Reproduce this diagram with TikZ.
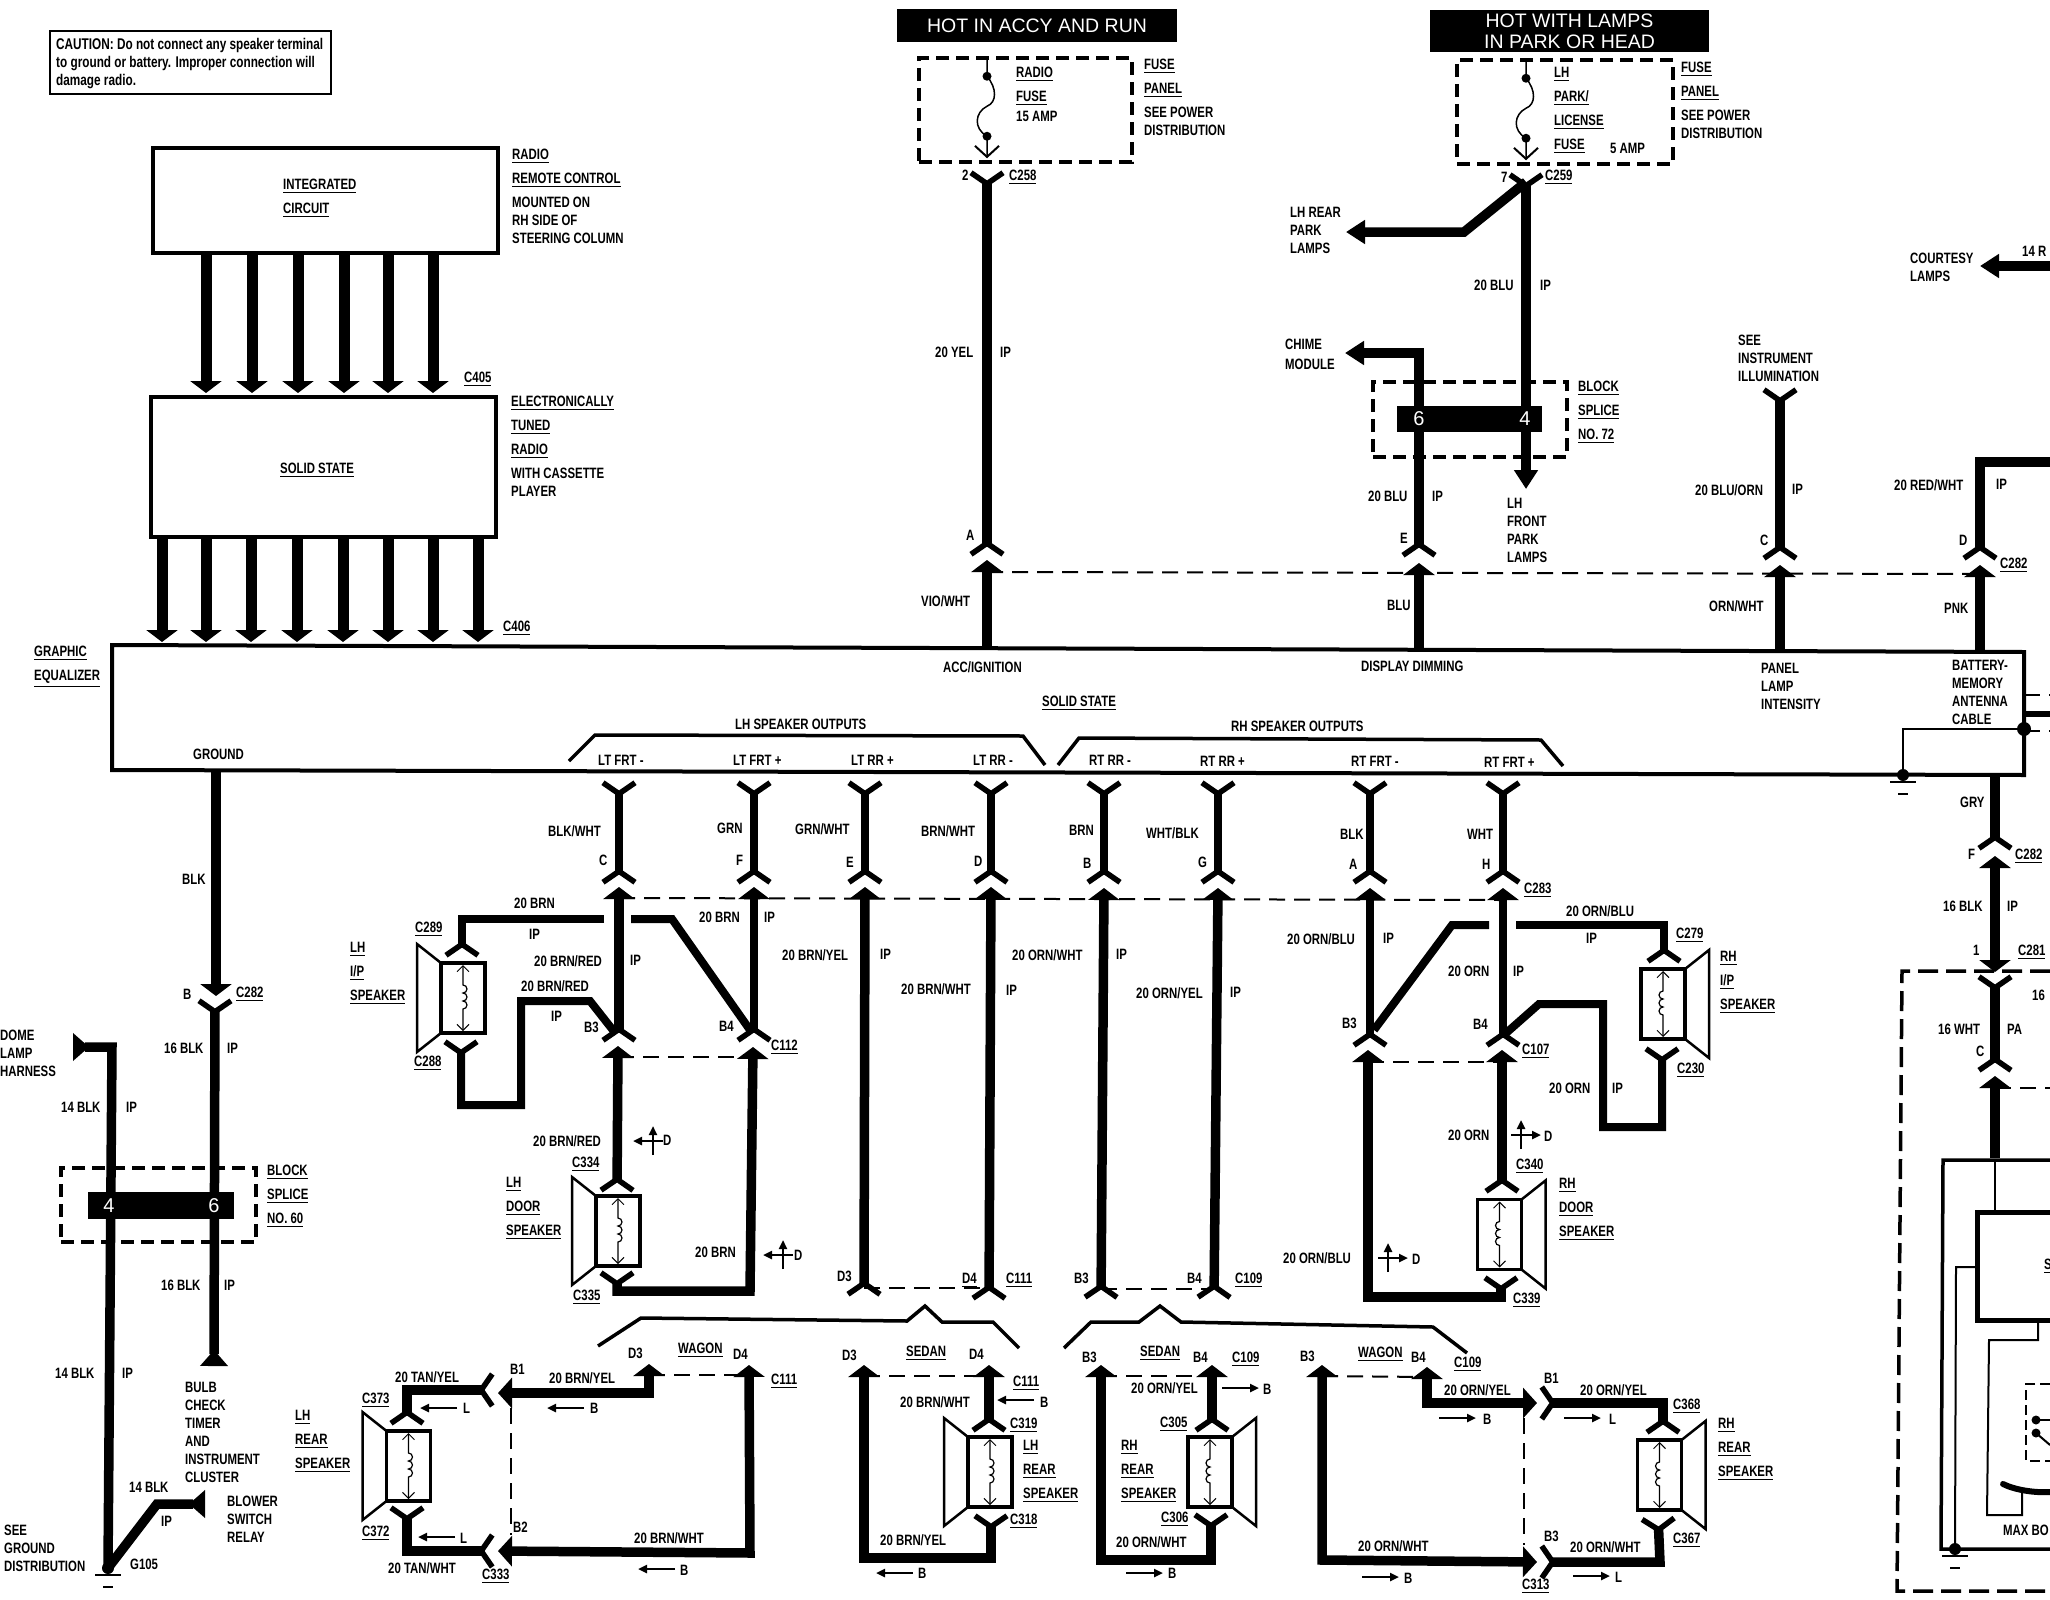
\documentclass[tikz,border=0pt]{standalone}
\usepackage{fontspec}
\setmainfont{Liberation Sans}[FakeStretch=0.76]
\newfontfamily\hotfont{Liberation Sans}
\usetikzlibrary{arrows.meta}
\newcommand\ulab[1]{\leavevmode\vtop{\hbox{#1}\kern2pt\hrule height 1.6pt}}
\tikzset{
  fk/.tip={Straight Barb[reversed,length=11pt,width=32pt,line width=5.5pt]},
  hd/.tip={Triangle[length=12pt,width=31pt]},
  ar/.tip={Triangle[length=19pt,width=23pt]},
  ac/.tip={Triangle[length=14pt,width=30pt]},
  fl/.tip={Triangle[reversed,length=16pt,width=27pt]},
  bb/.tip={Straight Barb[length=6pt,width=12pt,line width=1pt]},
  wire/.style={line width=9.5pt},
  hvy/.style={line width=11pt},
  box/.style={draw,line width=4.5pt,inner sep=0pt},
  dbox/.style={draw,line width=3.5pt,dash pattern=on 13pt off 7pt,inner sep=0pt},
  dline/.style={line width=2pt,dash pattern=on 16pt off 9pt},
  brk/.style={line width=3.5pt},
  thn/.style={line width=2pt},
  lab/.style={inner sep=0pt,anchor=north west,align=left,font=\fontsize{15}{18}\selectfont\bfseries},
  hot/.style={fill=black,text=white,inner sep=0pt,align=center,font=\fontsize{19.5}{21}\hotfont},
  num/.style={text=white,inner sep=0pt,font=\fontsize{20}{20}\hotfont},
  bar/.style={fill=black,inner sep=0pt},
  pics/speaker/.style={code={
    \draw[line width=3.5pt] (-22,-35) rectangle (22,35);
    \draw[line width=2.5pt] (-22,-35) -- (-46,-54) -- (-46,54) -- (-22,35);
    \draw[line width=1.2pt,bb-bb] (0,-33) -- (0,-13) arc (-90:90:4) arc (-90:90:4) arc (-90:90:4) -- (0,33);
  }},
  pics/gnd/.style={code={
    \fill (0,0) circle (6);
    \draw[line width=2.5pt] (-13,7) -- (13,7);
    \draw[line width=2.5pt] (-5,19) -- (5,19);
  }},
  pics/fuse/.style={code={
    \fill (0,20) circle (4.5);
    \fill (0,80) circle (4.5);
    \draw[line width=1.5pt,-{Straight Barb[length=11pt,width=24pt,line width=2pt]}] (0,0) -- (0,20) .. controls (10,32) and (10,46) .. (0,50) .. controls (-12,56) and (-14,72) .. (0,80) -- (0,102);
  }},
  pics/dirl/.style={code={\draw[line width=2.5pt,-{Triangle[length=9pt,width=8pt]}] (0,0) -- (-37,0);}},
  pics/dirr/.style={code={\draw[line width=2.5pt,-{Triangle[length=9pt,width=8pt]}] (0,0) -- (37,0);}},
  pics/crossm/.style={code={
    \draw[line width=2.5pt,-{Triangle[length=9pt,width=8pt]}] (0,14) -- (0,-15);
    \draw[line width=2.5pt,-{Triangle[length=9pt,width=8pt]}] (-10,0) -- (20,0);
  }}
}
\begin{document}
\begin{tikzpicture}[x=1pt,y=-1pt]
  \useasboundingbox (0,0) rectangle (2050,1600);

  \node[box,line width=2.5pt,minimum width=281pt,minimum height=63pt] (cbox) at (190.5,62.5) {};
  \node[box,minimum width=345pt,minimum height=105pt] (icbox) at (325.5,200.5) {};
  \node[box,minimum width=345pt,minimum height=140pt] (ssbox) at (323.5,467) {};

  \foreach \x in {206,252,298,344,388,433} {
    \coordinate (r\x) at (\x,393);
    \draw[hvy,-hd] (icbox.south -| r\x) -- (r\x);
  }
  \foreach \x in {162,206,251,297,343,388,433,478} {
    \coordinate (s\x) at (\x,642);
    \draw[hvy,-hd] (ssbox.south -| s\x) -- (s\x);
  }

  \coordinate (eq1) at (112,645);
  \coordinate (eq2) at (2024,652);
  \coordinate (eq3) at (2024,775);
  \coordinate (eq4) at (112,770);
  \draw[line width=4pt] (eq1) -- (eq2) -- (eq3) -- (eq4) -- cycle;

  \coordinate (a1) at (987,170);
  \coordinate (a2) at (987,557);
  \coordinate (a3) at (987,560);
  \coordinate (a4) at (987,648);
  \draw[wire,fk-fk] (a1) -- (a2);
  \draw[wire,hd-] (a3) -- (a4);

  \coordinate (b1) at (1419,563);
  \coordinate (b2) at (1419,649);
  \coordinate (b3) at (1419,558);
  \coordinate (b4) at (1419,353);
  \coordinate (b5) at (1345,353);
  \draw[wire,hd-] (b1) -- (b2);
  \draw[wire,fk-ar] (b3) -- (b4) -- (b5);

  \coordinate (c1) at (1526,172);
  \coordinate (c2) at (1526,489);
  \coordinate (c3) at (1526,182);
  \coordinate (c4) at (1464,232);
  \coordinate (c5) at (1346,232);
  \draw[wire,fk-ar] (c1) -- (c2);
  \draw[wire,-ar] (c3) -- (c4) -- (c5);

  \coordinate (d1) at (1780,387);
  \coordinate (d2) at (1780,561);
  \coordinate (d3) at (1780,565);
  \coordinate (d4) at (1780,650);
  \draw[wire,fk-fk] (d1) -- (d2);
  \draw[wire,hd-] (d3) -- (d4);

  \coordinate (e1) at (2050,462);
  \coordinate (e2) at (1980,462);
  \coordinate (e3) at (1980,561);
  \coordinate (e4) at (1980,565);
  \coordinate (e5) at (1980,651);
  \draw[wire,-fk] (e1) -- (e2) -- (e3);
  \draw[wire,hd-] (e4) -- (e5);

  \coordinate (cl1) at (2050,266);
  \coordinate (cl2) at (1980,266);
  \draw[wire,-ar] (cl1) -- (cl2);

  \coordinate (f1) at (1995,775);
  \coordinate (f2) at (1995,851);
  \coordinate (f3) at (1995,856);
  \coordinate (f4) at (1995,972);
  \coordinate (f5) at (1995,974);
  \coordinate (f6) at (1995,1073);
  \coordinate (f7) at (1995,1076);
  \coordinate (f8) at (1995,1158);
  \draw[wire,-fk] (f1) -- (f2);
  \draw[wire,hd-hd] (f3) -- (f4);
  \draw[wire,fk-fk] (f5) -- (f6);
  \draw[wire,hd-] (f7) -- (f8);

  \coordinate (g1) at (216,770);
  \coordinate (g2) at (216,996);
  \coordinate (g3) at (215,998);
  \coordinate (g4) at (214,1366);
  \draw[wire,-hd] (g1) -- (g2);
  \draw[wire,fk-fl] (g3) -- (g4);

  \coordinate (h1) at (73,1047);
  \coordinate (h2) at (112,1047);
  \coordinate (h3) at (108,1568);
  \coordinate (h4) at (157,1504);
  \coordinate (h5) at (205,1504);
  \draw[wire,fl-] (h1) -- (h2) -- (h3);
  \draw[wire,-fl] (h3) -- (h4) -- (h5);

  \foreach \x in {619,754,865,991,1104,1218,1370,1503} {
    \coordinate (u\x) at (\x,780);
    \coordinate (v\x) at (\x,885);
    \draw[wire,line width=8pt,fk-fk] (u\x) -- (v\x);
  }

  \coordinate (j1) at (619,887);
  \coordinate (j2) at (619,1043);
  \coordinate (j3) at (618,1046);
  \coordinate (j4) at (617,1193);
  \coordinate (j5) at (617,1270);
  \coordinate (j6) at (617,1291);
  \coordinate (j7) at (750,1291);
  \coordinate (j8) at (753,1047);
  \coordinate (j9) at (754,887);
  \coordinate (j10) at (754,1043);
  \draw[wire,hd-fk] (j1) -- (j2);
  \draw[wire,hd-fk] (j3) -- (j4);
  \draw[wire,fk-hd] (j5) -- (j6) -- (j7) -- (j8);
  \draw[wire,line width=8pt,hd-fk] (j9) -- (j10);

  \coordinate (k1) at (865,887);
  \coordinate (k2) at (864,1297);
  \coordinate (k3) at (991,887);
  \coordinate (k4) at (989,1301);
  \coordinate (k5) at (1104,888);
  \coordinate (k6) at (1101,1300);
  \coordinate (k7) at (1218,888);
  \coordinate (k8) at (1214,1300);
  \draw[wire,hd-fk] (k1) -- (k2);
  \draw[wire,hd-fk] (k3) -- (k4);
  \draw[wire,hd-fk] (k5) -- (k6);
  \draw[wire,hd-fk] (k7) -- (k8);

  \coordinate (m1) at (1370,888);
  \coordinate (m2) at (1370,1048);
  \coordinate (m3) at (1368,1050);
  \coordinate (m4) at (1368,1297);
  \coordinate (m5) at (1501,1297);
  \coordinate (m6) at (1501,1275);
  \coordinate (m7) at (1503,888);
  \coordinate (m8) at (1503,1048);
  \coordinate (m9) at (1502,1050);
  \coordinate (m10) at (1502,1194);
  \draw[wire,line width=8pt,hd-fk] (m1) -- (m2);
  \draw[wire,hd-fk] (m3) -- (m4) -- (m5) -- (m6);
  \draw[wire,line width=8pt,hd-fk] (m7) -- (m8);
  \draw[wire,hd-fk] (m9) -- (m10);

  \coordinate (n1) at (604,919);
  \coordinate (n2) at (462,919);
  \coordinate (n3) at (462,958);
  \coordinate (n4) at (631,919);
  \coordinate (n5) at (672,919);
  \coordinate (n6) at (750,1030);
  \coordinate (n7) at (461,1039);
  \coordinate (n8) at (461,1105);
  \coordinate (n9) at (521,1105);
  \coordinate (n10) at (521,1001);
  \coordinate (n11) at (590,1001);
  \coordinate (n12) at (616,1034);
  \draw[wire,line width=8pt,-fk] (n1) -- (n2) -- (n3);
  \draw[wire,line width=8pt] (n4) -- (n5) -- (n6);
  \draw[wire,line width=8pt,fk-] (n7) -- (n8) -- (n9) -- (n10) -- (n11) -- (n12);

  \coordinate (o1) at (1489,925);
  \coordinate (o2) at (1452,925);
  \coordinate (o3) at (1374,1030);
  \coordinate (o4) at (1516,925);
  \coordinate (o5) at (1664,925);
  \coordinate (o6) at (1664,964);
  \coordinate (o7) at (1662,1046);
  \coordinate (o8) at (1662,1127);
  \coordinate (o9) at (1603,1127);
  \coordinate (o10) at (1603,1004);
  \coordinate (o11) at (1539,1004);
  \coordinate (o12) at (1505,1034);
  \draw[wire,line width=8pt] (o1) -- (o2) -- (o3);
  \draw[wire,line width=8pt,-fk] (o4) -- (o5) -- (o6);
  \draw[wire,line width=8pt,fk-] (o7) -- (o8) -- (o9) -- (o10) -- (o11) -- (o12);

  \coordinate (q1) at (649,1364);
  \coordinate (q2) at (649,1393);
  \coordinate (q3) at (498,1393);
  \coordinate (q4) at (495,1390);
  \coordinate (q5) at (407,1390);
  \coordinate (q6) at (407,1426);
  \coordinate (q7) at (749,1365);
  \coordinate (q8) at (750,1553);
  \coordinate (q9) at (498,1551);
  \coordinate (q10) at (495,1551);
  \coordinate (q11) at (407,1551);
  \coordinate (q12) at (407,1505);
  \draw[wire,hd-ac] (q1) -- (q2) -- (q3);
  \draw[wire,fk-fk] (q4) -- (q5) -- (q6);
  \draw[wire,hd-ac] (q7) -- (q8) -- (q9);
  \draw[wire,fk-fk] (q10) -- (q11) -- (q12);

  \coordinate (w1) at (864,1365);
  \coordinate (w2) at (864,1558);
  \coordinate (w3) at (991,1558);
  \coordinate (w4) at (991,1513);
  \coordinate (w5) at (989,1365);
  \coordinate (w6) at (989,1433);
  \coordinate (w7) at (1101,1365);
  \coordinate (w8) at (1101,1560);
  \coordinate (w9) at (1211,1560);
  \coordinate (w10) at (1211,1512);
  \coordinate (w11) at (1212,1365);
  \coordinate (w12) at (1212,1433);
  \draw[wire,hd-fk] (w1) -- (w2) -- (w3) -- (w4);
  \draw[wire,hd-fk] (w5) -- (w6);
  \draw[wire,hd-fk] (w7) -- (w8) -- (w9) -- (w10);
  \draw[wire,hd-fk] (w11) -- (w12);

  \coordinate (x1) at (1322,1365);
  \coordinate (x2) at (1322,1560);
  \coordinate (x3) at (1537,1562);
  \coordinate (x4) at (1539,1562);
  \coordinate (x5) at (1660,1562);
  \coordinate (x6) at (1658,1516);
  \coordinate (x7) at (1427,1367);
  \coordinate (x8) at (1427,1403);
  \coordinate (x9) at (1537,1403);
  \coordinate (x10) at (1539,1403);
  \coordinate (x11) at (1663,1403);
  \coordinate (x12) at (1663,1435);
  \draw[wire,hd-ac] (x1) -- (x2) -- (x3);
  \draw[wire,fk-fk] (x4) -- (x5) -- (x6);
  \draw[wire,hd-ac] (x7) -- (x8) -- (x9);
  \draw[wire,fk-fk] (x10) -- (x11) -- (x12);

  \coordinate (y2) at (1322,1376);
  \coordinate (y3) at (1427,1377);
  \draw[dline] (a3) ++(0,12) -- (1980,574);
  \draw[dline] (j1) ++(0,11) -- (1502,900);
  \draw[dline] (j3) ++(0,11) -- (j8 |- 0,1057);
  \draw[dline] (m3) ++(0,12) -- (m9 |- 0,1062);
  \draw[dline] (k2) ++(0,-9) -- (989,1288);
  \draw[dline] (k6) ++(0,-11) -- (1214,1289);
  \draw[dline] (q1) ++(0,11) -- (749,1375);
  \draw[dline] (w1) ++(0,11) -- (989,1376);
  \draw[dline] (w7) ++(0,11) -- (1212,1376);
  \draw[dline] (y2) -- (y3);
  \draw[dline] (511,1408) -- (511,1535);
  \draw[dline] (1524,1418) -- (1524,1545);
  \draw[dline] (1995,1088) -- (2050,1088);
  \draw[dline] (2024,695) -- (2050,695);
  \draw[dline] (2024,731) -- (2050,731);
  \draw[line width=6pt] (2024,714) -- (2050,714);

  \coordinate (gd) at (1903,775);
  \coordinate (dt) at (2024,729);
  \fill (dt) circle (7);
  \draw[thn] (dt) -- (gd |- dt) -- (gd);
  \pic (gndA) at (gd) {gnd};
  \pic (gndB) at (h3) {gnd};

  \node[dbox,minimum width=213pt,minimum height=104pt] (fa) at (1025.5,110) {};
  \node[dbox,minimum width=216pt,minimum height=104pt] (fb) at (1565,112) {};
  \node[dbox,minimum width=194pt,minimum height=75pt] (sb72) at (1470,419.5) {};
  \node[dbox,minimum width=195pt,minimum height=74pt] (sb60) at (158.5,1205) {};
  \pic (fuA) at (fa.north -| a1) {fuse};
  \pic (fuB) at (fb.north -| c1) {fuse};
  \node[bar,minimum width=145pt,minimum height=26pt] (bar72) at (1469.5,419) {};
  \node[bar,minimum width=146pt,minimum height=27pt] (bar60) at (161,1205.5) {};
  \node[num] (n72a) at (1419,419) {6};
  \node[num] (n72b) at (1525,419) {4};
  \node[num] (n60a) at (109,1206) {4};
  \node[num] (n60b) at (214,1206) {6};

  \node[hot,minimum width=280pt,minimum height=33pt] (hota) at (1037,25.5) {HOT IN ACCY AND RUN};
  \node[hot,minimum width=279pt,minimum height=42pt] (hotb) at (1569.5,31) {HOT WITH LAMPS\\IN PARK OR HEAD};

  \pic (spA) at (463,998) {speaker};
  \pic (spB) at (618,1231) {speaker};
  \pic[xscale=-1] (spC) at (1663,1004) {speaker};
  \pic[xscale=-1] (spD) at (1499.5,1234.5) {speaker};
  \pic (spE) at (408.5,1466) {speaker};
  \pic (spF) at (990,1472) {speaker};
  \pic[xscale=-1] (spG) at (1210,1472) {speaker};
  \pic[xscale=-1] (spH) at (1659.5,1475) {speaker};

  \draw[brk] (569,761) -- (595,735) -- (1023,736) -- (1045,765);
  \draw[brk] (1058,765) -- (1079,738) -- (1541,740) -- (1563,766);
  \draw[brk] (598,1346) -- (641,1318) -- (907,1321) -- (925,1306) -- (942,1322) -- (993,1322) -- (1019,1348);
  \draw[brk] (1064,1348) -- (1091,1322) -- (1139,1322) -- (1160,1306) -- (1181,1322) -- (1433,1327) -- (1467,1353);

  \pic (di1) at (457,1408) {dirl};
  \pic (di2) at (455,1537) {dirl};
  \pic (di3) at (584,1408) {dirl};
  \pic (di4) at (675,1569) {dirl};
  \pic (di5) at (1034,1400) {dirl};
  \pic (di6) at (913,1573) {dirl};
  \pic (di7) at (1222,1388) {dirr};
  \pic (di8) at (1126,1573) {dirr};
  \pic (di9) at (1439,1418) {dirr};
  \pic (di10) at (1564,1418) {dirr};
  \pic (di11) at (1362,1577) {dirr};
  \pic (di12) at (1573,1576) {dirr};
  \pic[xscale=-1] (cr1) at (653,1141) {crossm};
  \pic[xscale=-1] (cr2) at (783,1255) {crossm};
  \pic (cr3) at (1521,1135) {crossm};
  \pic (cr4) at (1388,1258) {crossm};

  \draw[line width=3.5pt,dash pattern=on 20pt off 8pt] (2050,971) -- (1902,971) -- (1897,1591) -- (2050,1591);
  \draw[line width=3.5pt] (2050,1160) -- (1943,1160) -- (1941,1549) -- (2050,1549);
  \draw[thn] (1995,1160) -- (1995,1212);
  \draw[line width=5pt] (2050,1212) -- (1977,1212) -- (1977,1320) -- (2050,1320);
  \draw[thn] (1977,1267) -- (1956,1267) -- (1955,1549);
  \draw[thn] (2038,1320) -- (2038,1340) -- (1989,1340) -- (1987,1515) -- (2022,1515) -- (2022,1492);
  \draw[line width=6pt,line cap=round] (2003,1484) .. controls (2015,1490) and (2035,1493) .. (2050,1492);
  \draw[line width=1.5pt,dash pattern=on 10pt off 5pt] (2050,1384) -- (2026,1384) -- (2026,1461) -- (2050,1461);
  \fill (2036,1420) circle (4.5);
  \fill (2036,1433) circle (4.5);
  \draw[thn] (2036,1420) -- (2050,1420);
  \draw[thn] (2036,1433) -- (2050,1445);
  \pic (gndC) at (1955,1549) {gnd};

  \node[lab,font=\fontsize{15.5}{18}\selectfont\bfseries] (l1) at (56,38) {CAUTION: Do not connect any speaker terminal\\to ground or battery. Improper connection will\\damage radio.};
  \node[lab] (l2) at (283,179) {\ulab{INTEGRATED}\\[6pt]\ulab{CIRCUIT}};
  \node[lab] (l3) at (512,149) {\ulab{RADIO}\\[6pt]\ulab{REMOTE CONTROL}\\[6pt]MOUNTED ON\\RH SIDE OF\\STEERING COLUMN};
  \node[lab] (l4) at (464,372) {\ulab{C405}};
  \node[lab] (l5) at (280,463) {\ulab{SOLID STATE}};
  \node[lab] (l6) at (511,396) {\ulab{ELECTRONICALLY}\\[6pt]\ulab{TUNED}\\[6pt]\ulab{RADIO}\\[6pt]WITH CASSETTE\\PLAYER};
  \node[lab] (l7) at (503,621) {\ulab{C406}};
  \node[lab] (l8) at (34,646) {\ulab{GRAPHIC}\\[6pt]\ulab{EQUALIZER}};
  \node[lab] (l9) at (1016,67) {\ulab{RADIO}\\[6pt]\ulab{FUSE}\\[2pt]15 AMP};
  \node[lab] (l10) at (1144,59) {\ulab{FUSE}\\[6pt]\ulab{PANEL}\\[6pt]SEE POWER\\DISTRIBUTION};
  \node[lab] (l11) at (962,170) {2};
  \node[lab] (l12) at (1009,170) {\ulab{C258}};
  \node[lab] (l13) at (935,347) {20 YEL};
  \node[lab] (l14) at (1000,347) {IP};
  \node[lab] (l15) at (966,530) {A};
  \node[lab] (l16) at (921,595) {VIO/WHT};
  \node[lab] (l17) at (943,661) {ACC/IGNITION};
  \node[lab] (l18) at (1042,696) {\ulab{SOLID STATE}};
  \node[lab] (l19) at (1554,67) {\ulab{LH}\\[6pt]\ulab{PARK/}\\[6pt]\ulab{LICENSE}\\[6pt]\ulab{FUSE}};
  \node[lab] (l20) at (1610,143) {5 AMP};
  \node[lab] (l21) at (1681,62) {\ulab{FUSE}\\[6pt]\ulab{PANEL}\\[6pt]SEE POWER\\DISTRIBUTION};
  \node[lab] (l22) at (1501,172) {7};
  \node[lab] (l23) at (1545,170) {\ulab{C259}};
  \node[lab] (l24) at (1290,207) {LH REAR\\PARK\\LAMPS};
  \node[lab] (l25) at (1474,280) {20 BLU};
  \node[lab] (l26) at (1540,280) {IP};
  \node[lab] (l27) at (1285,339) {CHIME\\[2pt]MODULE};
  \node[lab] (l28) at (1578,381) {\ulab{BLOCK}\\[6pt]\ulab{SPLICE}\\[6pt]\ulab{NO. 72}};
  \node[lab] (l29) at (1368,491) {20 BLU};
  \node[lab] (l30) at (1432,491) {IP};
  \node[lab] (l31) at (1400,533) {E};
  \node[lab] (l32) at (1387,600) {BLU};
  \node[lab] (l33) at (1507,498) {LH\\FRONT\\PARK\\LAMPS};
  \node[lab] (l34) at (1361,661) {DISPLAY DIMMING};
  \node[lab] (l35) at (1910,253) {COURTESY\\LAMPS};
  \node[lab] (l36) at (2022,246) {14 R};
  \node[lab] (l37) at (1738,335) {SEE\\INSTRUMENT\\ILLUMINATION};
  \node[lab] (l38) at (1695,484) {20 BLU/ORN};
  \node[lab] (l39) at (1792,484) {IP};
  \node[lab] (l40) at (1760,535) {C};
  \node[lab] (l41) at (1709,600) {ORN/WHT};
  \node[lab] (l42) at (1894,479) {20 RED/WHT};
  \node[lab] (l43) at (1996,479) {IP};
  \node[lab] (l44) at (1959,535) {D};
  \node[lab] (l45) at (2000,558) {\ulab{C282}};
  \node[lab] (l46) at (1944,603) {PNK};
  \node[lab] (l47) at (1761,663) {PANEL\\LAMP\\INTENSITY};
  \node[lab] (l48) at (1952,660) {BATTERY-\\MEMORY\\ANTENNA\\CABLE};
  \node[lab] (l49) at (1960,797) {GRY};
  \node[lab] (l50) at (1968,849) {F};
  \node[lab] (l51) at (2015,849) {\ulab{C282}};
  \node[lab] (l52) at (1943,901) {16 BLK};
  \node[lab] (l53) at (2007,901) {IP};
  \node[lab] (l54) at (1973,945) {1};
  \node[lab] (l55) at (2018,945) {\ulab{C281}};
  \node[lab] (l56) at (2032,990) {16};
  \node[lab] (l57) at (1938,1024) {16 WHT};
  \node[lab] (l58) at (2007,1024) {PA};
  \node[lab] (l59) at (1976,1046) {C};
  \node[lab] (l60) at (2044,1259) {\ulab{S}};
  \node[lab] (l61) at (2003,1525) {MAX BO};
  \node[lab] (l62) at (193,749) {GROUND};
  \node[lab] (l63) at (182,874) {BLK};
  \node[lab] (l64) at (183,989) {B};
  \node[lab] (l65) at (236,987) {\ulab{C282}};
  \node[lab] (l66) at (164,1043) {16 BLK};
  \node[lab] (l67) at (227,1043) {IP};
  \node[lab] (l68) at (0,1030) {DOME\\LAMP\\HARNESS};
  \node[lab] (l69) at (61,1102) {14 BLK};
  \node[lab] (l70) at (126,1102) {IP};
  \node[lab] (l71) at (267,1165) {\ulab{BLOCK}\\[6pt]\ulab{SPLICE}\\[6pt]\ulab{NO. 60}};
  \node[lab] (l72) at (161,1280) {16 BLK};
  \node[lab] (l73) at (224,1280) {IP};
  \node[lab] (l74) at (55,1368) {14 BLK};
  \node[lab] (l75) at (122,1368) {IP};
  \node[lab] (l76) at (185,1382) {BULB\\CHECK\\TIMER\\AND\\INSTRUMENT\\CLUSTER};
  \node[lab] (l77) at (129,1482) {14 BLK};
  \node[lab] (l78) at (161,1516) {IP};
  \node[lab] (l79) at (227,1496) {BLOWER\\SWITCH\\RELAY};
  \node[lab] (l80) at (4,1525) {SEE\\GROUND\\DISTRIBUTION};
  \node[lab] (l81) at (130,1559) {G105};
  \node[lab] (l82) at (350,942) {\ulab{LH}\\[6pt]\ulab{I/P}\\[6pt]\ulab{SPEAKER}};
  \node[lab] (l83) at (415,922) {\ulab{C289}};
  \node[lab] (l84) at (414,1056) {\ulab{C288}};
  \node[lab] (l85) at (735,719) {LH SPEAKER OUTPUTS};
  \node[lab] (l86) at (598,755) {LT FRT -};
  \node[lab] (l87) at (733,755) {LT FRT +};
  \node[lab] (l88) at (851,755) {LT RR +};
  \node[lab] (l89) at (973,755) {LT RR -};
  \node[lab] (l90) at (548,825) {BLK/WHT};
  \node[lab] (l91) at (717,823) {GRN};
  \node[lab] (l92) at (795,823) {GRN/WHT};
  \node[lab] (l93) at (921,825) {BRN/WHT};
  \node[lab] (l94) at (1069,825) {BRN};
  \node[lab] (l95) at (599,855) {C};
  \node[lab] (l96) at (736,855) {F};
  \node[lab] (l97) at (846,857) {E};
  \node[lab] (l98) at (974,856) {D};
  \node[lab] (l99) at (1083,858) {B};
  \node[lab] (l100) at (514,898) {20 BRN};
  \node[lab] (l101) at (529,929) {IP};
  \node[lab] (l102) at (534,955) {20 BRN/RED};
  \node[lab] (l103) at (630,955) {IP};
  \node[lab] (l104) at (521,980) {20 BRN/RED};
  \node[lab] (l105) at (551,1011) {IP};
  \node[lab] (l106) at (584,1022) {B3};
  \node[lab] (l107) at (699,912) {20 BRN};
  \node[lab] (l108) at (764,912) {IP};
  \node[lab] (l109) at (719,1021) {B4};
  \node[lab] (l110) at (771,1040) {\ulab{C112}};
  \node[lab] (l111) at (782,949) {20 BRN/YEL};
  \node[lab] (l112) at (880,949) {IP};
  \node[lab] (l113) at (901,983) {20 BRN/WHT};
  \node[lab] (l114) at (1006,985) {IP};
  \node[lab] (l115) at (1012,949) {20 ORN/WHT};
  \node[lab] (l116) at (533,1135) {20 BRN/RED};
  \node[lab] (l117) at (695,1247) {20 BRN};
  \node[lab] (l118) at (506,1177) {\ulab{LH}\\[6pt]\ulab{DOOR}\\[6pt]\ulab{SPEAKER}};
  \node[lab] (l119) at (572,1157) {\ulab{C334}};
  \node[lab] (l120) at (573,1290) {\ulab{C335}};
  \node[lab] (l121) at (837,1271) {D3};
  \node[lab] (l122) at (962,1273) {\ulab{D4}};
  \node[lab] (l123) at (1006,1273) {\ulab{C111}};
  \node[lab] (l124) at (1074,1273) {B3};
  \node[lab] (l125) at (663,1135) {D};
  \node[lab] (l126) at (794,1250) {D};
  \node[lab] (l127) at (1231,721) {RH SPEAKER OUTPUTS};
  \node[lab] (l128) at (1089,755) {RT RR -};
  \node[lab] (l129) at (1200,756) {RT RR +};
  \node[lab] (l130) at (1351,756) {RT FRT -};
  \node[lab] (l131) at (1484,757) {RT FRT +};
  \node[lab] (l132) at (1146,827) {WHT/BLK};
  \node[lab] (l133) at (1340,829) {BLK};
  \node[lab] (l134) at (1467,829) {WHT};
  \node[lab] (l135) at (1198,857) {G};
  \node[lab] (l136) at (1349,859) {A};
  \node[lab] (l137) at (1482,859) {H};
  \node[lab] (l138) at (1524,883) {\ulab{C283}};
  \node[lab] (l139) at (1116,949) {IP};
  \node[lab] (l140) at (1136,987) {20 ORN/YEL};
  \node[lab] (l141) at (1230,987) {IP};
  \node[lab] (l142) at (1287,933) {20 ORN/BLU};
  \node[lab] (l143) at (1383,933) {IP};
  \node[lab] (l144) at (1448,966) {20 ORN};
  \node[lab] (l145) at (1513,966) {IP};
  \node[lab] (l146) at (1566,905) {20 ORN/BLU};
  \node[lab] (l147) at (1586,933) {IP};
  \node[lab] (l148) at (1676,928) {\ulab{C279}};
  \node[lab] (l149) at (1549,1083) {20 ORN};
  \node[lab] (l150) at (1612,1083) {IP};
  \node[lab] (l151) at (1448,1130) {20 ORN};
  \node[lab] (l152) at (1544,1131) {D};
  \node[lab] (l153) at (1516,1159) {\ulab{C340}};
  \node[lab] (l154) at (1559,1178) {\ulab{RH}\\[6pt]\ulab{DOOR}\\[6pt]\ulab{SPEAKER}};
  \node[lab] (l155) at (1720,951) {\ulab{RH}\\[6pt]\ulab{I/P}\\[6pt]\ulab{SPEAKER}};
  \node[lab] (l156) at (1677,1063) {\ulab{C230}};
  \node[lab] (l157) at (1522,1044) {\ulab{C107}};
  \node[lab] (l158) at (1342,1018) {B3};
  \node[lab] (l159) at (1473,1019) {B4};
  \node[lab] (l160) at (1283,1252) {20 ORN/BLU};
  \node[lab] (l161) at (1412,1254) {D};
  \node[lab] (l162) at (1513,1293) {\ulab{C339}};
  \node[lab] (l163) at (1235,1273) {\ulab{C109}};
  \node[lab] (l165) at (1187,1273) {B4};
  \node[lab] (l166) at (678,1343) {\ulab{WAGON}};
  \node[lab] (l167) at (628,1348) {D3};
  \node[lab] (l168) at (733,1349) {D4};
  \node[lab] (l169) at (771,1374) {\ulab{C111}};
  \node[lab] (l170) at (395,1371) {20 TAN/YEL};
  \node[lab] (l171) at (362,1393) {\ulab{C373}};
  \node[lab] (l172) at (295,1410) {\ulab{LH}\\[6pt]\ulab{REAR}\\[6pt]\ulab{SPEAKER}};
  \node[lab] (l173) at (362,1526) {\ulab{C372}};
  \node[lab] (l174) at (388,1562) {20 TAN/WHT};
  \node[lab] (l175) at (482,1569) {\ulab{C333}};
  \node[lab] (l176) at (510,1364) {B1};
  \node[lab] (l177) at (513,1522) {B2};
  \node[lab] (l178) at (549,1372) {20 BRN/YEL};
  \node[lab] (l179) at (634,1532) {20 BRN/WHT};
  \node[lab] (l180) at (463,1403) {L};
  \node[lab] (l181) at (460,1533) {L};
  \node[lab] (l182) at (590,1403) {B};
  \node[lab] (l183) at (680,1565) {B};
  \node[lab] (l184) at (842,1350) {D3};
  \node[lab] (l185) at (906,1346) {\ulab{SEDAN}};
  \node[lab] (l186) at (969,1349) {D4};
  \node[lab] (l187) at (1013,1376) {\ulab{C111}};
  \node[lab] (l188) at (900,1396) {20 BRN/WHT};
  \node[lab] (l189) at (1040,1397) {B};
  \node[lab] (l190) at (1010,1418) {\ulab{C319}};
  \node[lab] (l191) at (1023,1440) {\ulab{LH}\\[6pt]\ulab{REAR}\\[6pt]\ulab{SPEAKER}};
  \node[lab] (l192) at (1010,1514) {\ulab{C318}};
  \node[lab] (l193) at (880,1534) {20 BRN/YEL};
  \node[lab] (l194) at (918,1568) {B};
  \node[lab] (l195) at (1082,1352) {B3};
  \node[lab] (l196) at (1140,1346) {\ulab{SEDAN}};
  \node[lab] (l197) at (1193,1352) {B4};
  \node[lab] (l198) at (1232,1352) {\ulab{C109}};
  \node[lab] (l199) at (1131,1382) {20 ORN/YEL};
  \node[lab] (l200) at (1263,1384) {B};
  \node[lab] (l201) at (1160,1417) {\ulab{C305}};
  \node[lab] (l202) at (1121,1440) {\ulab{RH}\\[6pt]\ulab{REAR}\\[6pt]\ulab{SPEAKER}};
  \node[lab] (l203) at (1161,1512) {\ulab{C306}};
  \node[lab] (l204) at (1116,1536) {20 ORN/WHT};
  \node[lab] (l205) at (1168,1568) {B};
  \node[lab] (l206) at (1300,1351) {B3};
  \node[lab] (l207) at (1358,1347) {\ulab{WAGON}};
  \node[lab] (l208) at (1411,1352) {B4};
  \node[lab] (l209) at (1454,1357) {\ulab{C109}};
  \node[lab] (l210) at (1444,1384) {20 ORN/YEL};
  \node[lab] (l211) at (1483,1414) {B};
  \node[lab] (l212) at (1544,1373) {B1};
  \node[lab] (l213) at (1580,1384) {20 ORN/YEL};
  \node[lab] (l214) at (1673,1399) {\ulab{C368}};
  \node[lab] (l215) at (1609,1414) {L};
  \node[lab] (l216) at (1718,1418) {\ulab{RH}\\[6pt]\ulab{REAR}\\[6pt]\ulab{SPEAKER}};
  \node[lab] (l217) at (1673,1533) {\ulab{C367}};
  \node[lab] (l218) at (1544,1531) {B3};
  \node[lab] (l219) at (1570,1541) {20 ORN/WHT};
  \node[lab] (l220) at (1358,1540) {20 ORN/WHT};
  \node[lab] (l221) at (1522,1579) {\ulab{C313}};
  \node[lab] (l222) at (1404,1573) {B};
  \node[lab] (l223) at (1615,1572) {L};
\end{tikzpicture}
\end{document}
